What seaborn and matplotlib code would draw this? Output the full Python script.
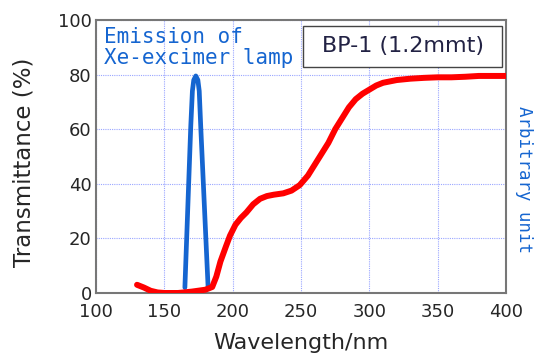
import matplotlib
matplotlib.use("Agg")
import matplotlib.pyplot as plt
import seaborn as sns
import pandas as pd
from matplotlib.patches import Rectangle

# Transmittance of BP-1 (red)
wavelength = [130, 135, 140, 145, 150, 160, 170, 180, 185, 188, 191, 195, 198, 202, 206,
              210, 215, 220, 225, 230, 237, 243, 249, 255, 260, 265, 270, 275, 280, 285,
              290, 295, 300, 305, 310, 315, 320, 330, 340, 350, 360, 370, 380, 390, 400]
transmittance = [3, 2, 0.8, 0.2, 0, 0, 0.5, 1.2, 2.2, 6, 11.5, 17, 21, 25, 27.5,
                 29.5, 32.5, 34.5, 35.5, 36, 36.5, 37.5, 39.5, 43, 47, 51, 55, 60, 64, 68,
                 71, 73, 74.5, 76, 77, 77.5, 78, 78.5, 78.8, 79, 79, 79.2, 79.5, 79.5, 79.5]

# Xe-excimer lamp emission (blue, arbitrary unit)
lamp_wl = [165, 169.3, 170.5, 171.5, 173, 174.5, 175.5, 176.6, 182]
lamp_em = [2, 61, 74, 78, 79.5, 78, 74, 61, 2]

x_ticks = [100, 150, 200, 250, 300, 350, 400]
y_ticks = [0, 20, 40, 60, 80, 100]

sns.set_style("white")
plt.rcParams['font.family'] = ['DejaVu Sans']

fig = plt.figure(figsize=(5.41, 3.58), dpi=100)
ax = fig.add_axes([0.1775, 0.1816, 0.758, 0.7626])

df_t = pd.DataFrame({"wl": wavelength, "t": transmittance})
df_l = pd.DataFrame({"wl": lamp_wl, "e": lamp_em})

sns.lineplot(data=df_l, x="wl", y="e", ax=ax, color="#1565d0", linewidth=3.4,
             sort=False, zorder=3)
sns.lineplot(data=df_t, x="wl", y="t", ax=ax, color="#ff0000", linewidth=4.3,
             sort=False, zorder=4)

ax.set_xlim(100, 400)
ax.set_ylim(0, 100)
ax.set_xticks(x_ticks)
ax.set_yticks(y_ticks)
ax.set_xticklabels([str(v) for v in x_ticks], fontsize=13)
ax.set_yticklabels([str(v) for v in y_ticks], fontsize=13)
ax.tick_params(direction="in", length=4, color="#555555")
ax.tick_params(axis="x", pad=7)
ax.tick_params(axis="y", pad=3)
ax.grid(True, color="#9aa6ff", linestyle=(0, (1, 1)), linewidth=0.8)
ax.set_axisbelow(True)
for s in ax.spines.values():
    s.set_color("#777777")
    s.set_linewidth(1.5)

ax.set_xlabel("Wavelength/nm", fontsize=16)
ax.set_ylabel("Transmittance (%)", fontsize=16.5)
ax.xaxis.set_label_coords(0.5, -0.145)
ax.yaxis.set_label_coords(-0.148, 0.48)

ax.text(0.02, 0.975, "Emission of\nXe-excimer lamp", transform=ax.transAxes,
        ha="left", va="top", fontsize=15, color="#1565d0",
        family="DejaVu Sans Mono", linespacing=1.1, zorder=5)

ax.add_patch(Rectangle((0.505, 0.828), 0.485, 0.15, transform=ax.transAxes,
                       facecolor="white", edgecolor="#444444", linewidth=1.0, zorder=6))
ax.text(0.7475, 0.903, "BP-1 (1.2mmt)", transform=ax.transAxes, ha="center",
        va="center", fontsize=16, color="#222244", zorder=7)

fig.text(0.968, 0.5, "Arbitrary unit", rotation=270, ha="center", va="center",
         fontsize=12.5, color="#1565d0", family="DejaVu Sans Mono")

fig.savefig("out.png", dpi=100)
